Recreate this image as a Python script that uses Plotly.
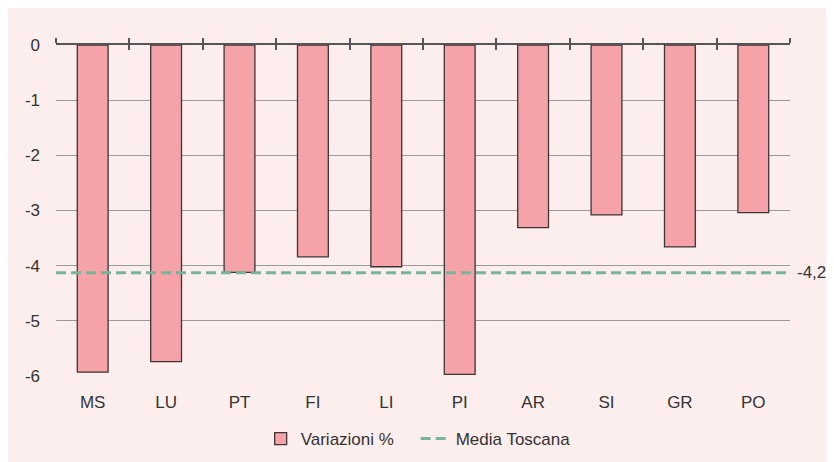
import plotly.graph_objects as go

categories = ["MS", "LU", "PT", "FI", "LI", "PI", "AR", "SI", "GR", "PO"]
variazioni = [-5.93, -5.74, -4.12, -3.84, -4.02, -5.97, -3.31, -3.08, -3.66, -3.04]
media_toscana = -4.13
media_label = "-4,2"
y_ticks = [0, -1, -2, -3, -4, -5, -6]

FONT = "Liberation Sans, Arial, sans-serif"
BG = "#fdeeee"
TXT = "#333333"

W, H = 834, 462
ML, MR, MT, MB = 48, 52, 37, 94
ph = H - MT - MB

fig = go.Figure()
fig.add_trace(go.Bar(
    x=categories, y=variazioni, name="Variazioni %",
    marker=dict(color="#f5a3a9", line=dict(color="#3d3535", width=1.3)),
    width=0.42,
))
fig.add_trace(go.Scatter(
    x=[0, 10], y=[media_toscana, media_toscana], xaxis="x2", yaxis="y",
    mode="lines", name="Media Toscana",
    line=dict(color="#76b59a", width=3, dash="10px,5px"),
))
# helper axis for the crossing tick marks (inside part)
fig.add_trace(go.Scatter(x=[0, 10], y=[0, 0], xaxis="x3", yaxis="y",
                         mode="lines", line=dict(width=0), showlegend=False,
                         hoverinfo="skip"))

fig.add_annotation(x=10, y=media_toscana, xref="x2", yref="y", text=media_label,
                   showarrow=False, xanchor="left", xshift=5,
                   font=dict(family=FONT, size=17, color=TXT))

fig.update_layout(
    width=W, height=H,
    margin=dict(l=ML, r=MR, t=MT, b=MB),
    paper_bgcolor=BG, plot_bgcolor=BG,
    font=dict(family=FONT, size=17, color=TXT),
    xaxis=dict(type="category", categoryorder="array", categoryarray=categories,
               range=[-0.5, 9.5], showgrid=False, showline=False, zeroline=False,
               ticks="", ticklabelstandoff=14, automargin=False,
               tickfont=dict(size=17, color=TXT)),
    xaxis2=dict(overlaying="x", side="top", anchor="y", range=[0, 10], tickmode="linear",
                tick0=0, dtick=1, showticklabels=False, showgrid=False, zeroline=False,
                showline=True, linecolor="#555555", linewidth=1.5, automargin=False,
                ticks="outside", ticklen=5, tickwidth=1.5, tickcolor="#555555"),
    xaxis3=dict(overlaying="x", side="top", anchor="y", range=[0, 10], tickmode="linear",
                tick0=0, dtick=1, showticklabels=False, showgrid=False, zeroline=False,
                showline=False, ticks="inside", ticklen=5, tickwidth=1.5,
                tickcolor="#555555", automargin=False),
    yaxis=dict(range=[-6, 0], tickvals=y_ticks, ticktext=[str(v) for v in y_ticks],
               showgrid=True, gridcolor="#9a9a9a", gridwidth=1.2, zeroline=False,
               showline=False, ticks="", ticklabelstandoff=15, automargin=False,
               tickfont=dict(size=17, color=TXT)),
    legend=dict(orientation="h", x=0.49, xanchor="center", y=-(431 - (H - MB)) / ph,
                yanchor="middle", font=dict(size=17, color=TXT), bgcolor="rgba(0,0,0,0)",
                entrywidth=110, entrywidthmode="pixels"),
    showlegend=True,
)

fig.write_html("out.html")
